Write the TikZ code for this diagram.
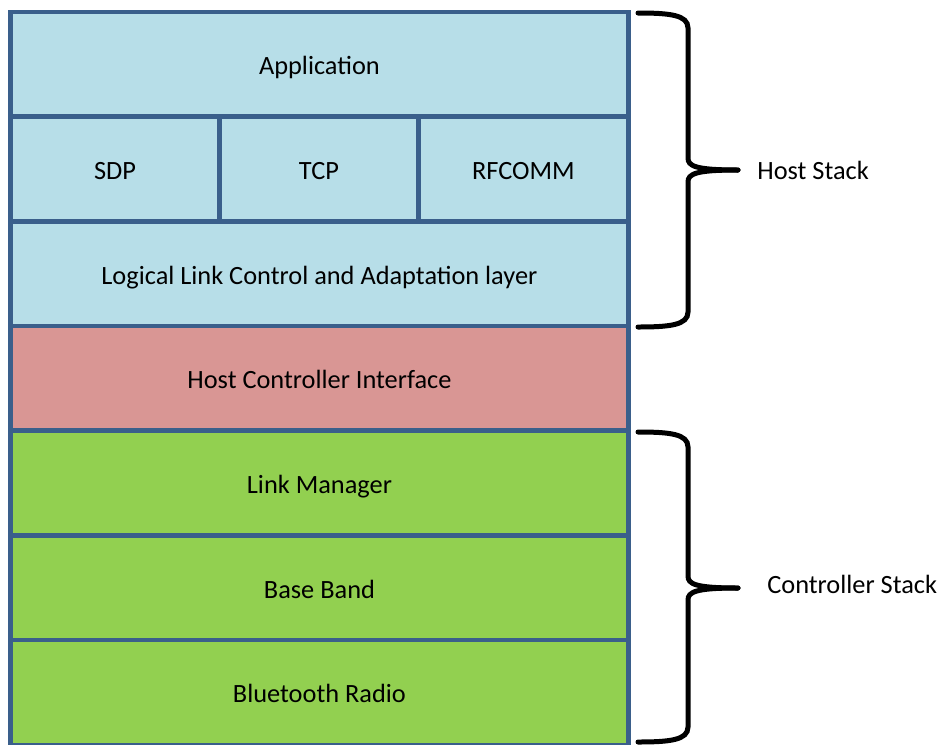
\documentclass[tikz,border=0pt]{standalone}
\usepackage{fontspec}
\setmainfont{Carlito}
\usepackage{xcolor}
\definecolor{hostblue}{HTML}{B7DEE8}
\definecolor{hcired}{HTML}{D99694}
\definecolor{ctrlgreen}{HTML}{92D050}
\definecolor{edge}{HTML}{3A5F8B}
\usepackage{tikz}
\usetikzlibrary{positioning}

\begin{document}
\begin{tikzpicture}[
    x=0.02cm, y=-0.02cm,
    layer/.style={draw=edge, line width=0.09cm, inner sep=0pt, outer sep=0pt,
        minimum width=12.36cm, minimum height=2.094cm,
        text height=11.9pt, text depth=0pt,
        font=\fontsize{15}{18}\selectfont},
    host/.style={layer, fill=hostblue},
    hci/.style={layer, fill=hcired},
    ctrl/.style={layer, fill=ctrlgreen},
    curly/.style={line width=0.1cm, line cap=round},
    side/.style={anchor=west, inner sep=0pt, font=\fontsize{15}{18}\selectfont}
    ]
    \useasboundingbox (0,0) rectangle (940,744);

    % host part
    \node[host, anchor=north west] (app) at (10.5,12) {Application};
    \node[host, anchor=north west, minimum width=4.18cm] (sdp) at (app.south west) {SDP};
    \node[host, anchor=north west, minimum width=3.98cm] (tcp) at (sdp.north east) {TCP};
    \node[host, anchor=north west, minimum width=4.20cm] (rfcomm) at (tcp.north east) {RFCOMM};
    \node[host, anchor=north west] (l2cap) at (sdp.south west) {Logical Link Control and Adaptation layer};

    % interface and controller part
    \node[hci, below=0pt of l2cap] (hcif) {Host Controller Interface};
    \node[ctrl, below=0pt of hcif] (lm) {Link Manager};
    \node[ctrl, below=0pt of lm] (bb) {Base Band};
    \node[ctrl, below=0pt of bb] (radio) {Bluetooth Radio};

    % braces
    \draw[curly] (638,13) .. controls (670,13) and (688,15) .. (688,28) -- (688,158)
        .. controls (688,166) and (695,170) .. (738,170);
    \draw[curly] (738,170) .. controls (695,170) and (688,174) .. (688,182) -- (688,312)
        .. controls (688,325) and (670,327) .. (638,327);
    \node[side] (hoststack) at (757,170) {Host Stack};

    \draw[curly] (638,432) .. controls (670,432) and (688,434) .. (688,447) -- (688,576)
        .. controls (688,584) and (695,588) .. (738,588);
    \draw[curly] (738,588) .. controls (695,588) and (688,592) .. (688,600) -- (688,727)
        .. controls (688,740) and (670,742) .. (638,742);
    \node[side] (ctrlstack) at (767,584) {Controller Stack};
\end{tikzpicture}
\end{document}
